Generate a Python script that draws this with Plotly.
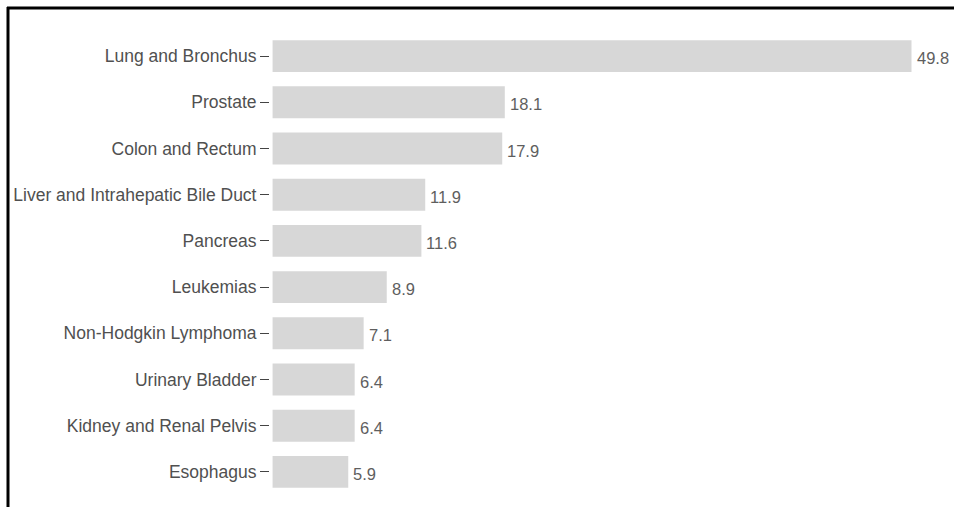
import plotly.graph_objects as go

# Cancer sites and rates
sites = [
    "Lung and Bronchus",
    "Prostate",
    "Colon and Rectum",
    "Liver and Intrahepatic Bile Duct",
    "Pancreas",
    "Leukemias",
    "Non-Hodgkin Lymphoma",
    "Urinary Bladder",
    "Kidney and Renal Pelvis",
    "Esophagus",
]
rates = [49.8, 18.1, 17.9, 11.9, 11.6, 8.9, 7.1, 6.4, 6.4, 5.9]

W, H = 954, 507
ML, MR, MT, MB = 270, 24, 33, 12
plot_w = W - ML - MR
plot_h = H - MT - MB

fig = go.Figure(
    go.Bar(
        x=rates,
        y=sites,
        orientation="h",
        marker=dict(color="#d7d7d7", line=dict(width=0)),
        hoverinfo="x+y",
    )
)

# Value labels just past the end of each bar
for s, v in zip(sites, rates):
    fig.add_annotation(
        x=v, y=s, text=f"{v}", showarrow=False,
        xanchor="left", yanchor="middle", xshift=3, yshift=-2,
        font=dict(family="Arial, Liberation Sans, sans-serif", size=16.5, color="#5e5e5e"),
    )

# Frame lines (top and left edges)
def px_to_paper_x(px):
    return (px - ML) / plot_w

def px_to_paper_y(py):
    return 1 - (py - MT) / plot_h

fig.add_shape(type="line", xref="paper", yref="paper",
              x0=px_to_paper_x(7), x1=px_to_paper_x(W + 5),
              y0=px_to_paper_y(8), y1=px_to_paper_y(8),
              line=dict(color="black", width=3))
fig.add_shape(type="line", xref="paper", yref="paper",
              x0=px_to_paper_x(8), x1=px_to_paper_x(8),
              y0=px_to_paper_y(7), y1=px_to_paper_y(H + 5),
              line=dict(color="black", width=3))

fig.update_layout(
    width=W, height=H,
    margin=dict(l=ML, r=MR, t=MT, b=MB, pad=0),
    paper_bgcolor="white",
    plot_bgcolor="white",
    bargap=0.31,
    showlegend=False,
    font=dict(family="Arial, Liberation Sans, sans-serif", size=17.5, color="#505050"),
    xaxis=dict(
        range=[-0.2, plot_w / 12.83 - 0.2],
        visible=False,
        fixedrange=True,
    ),
    yaxis=dict(
        categoryorder="array",
        categoryarray=sites[::-1],
        ticks="outside",
        ticklen=9,
        tickwidth=1,
        tickcolor="#444444",
        showline=False,
        showgrid=False,
        zeroline=False,
        tickfont=dict(size=17.5, color="#505050"),
        fixedrange=True,
    ),
)

fig.write_html("out.html")
